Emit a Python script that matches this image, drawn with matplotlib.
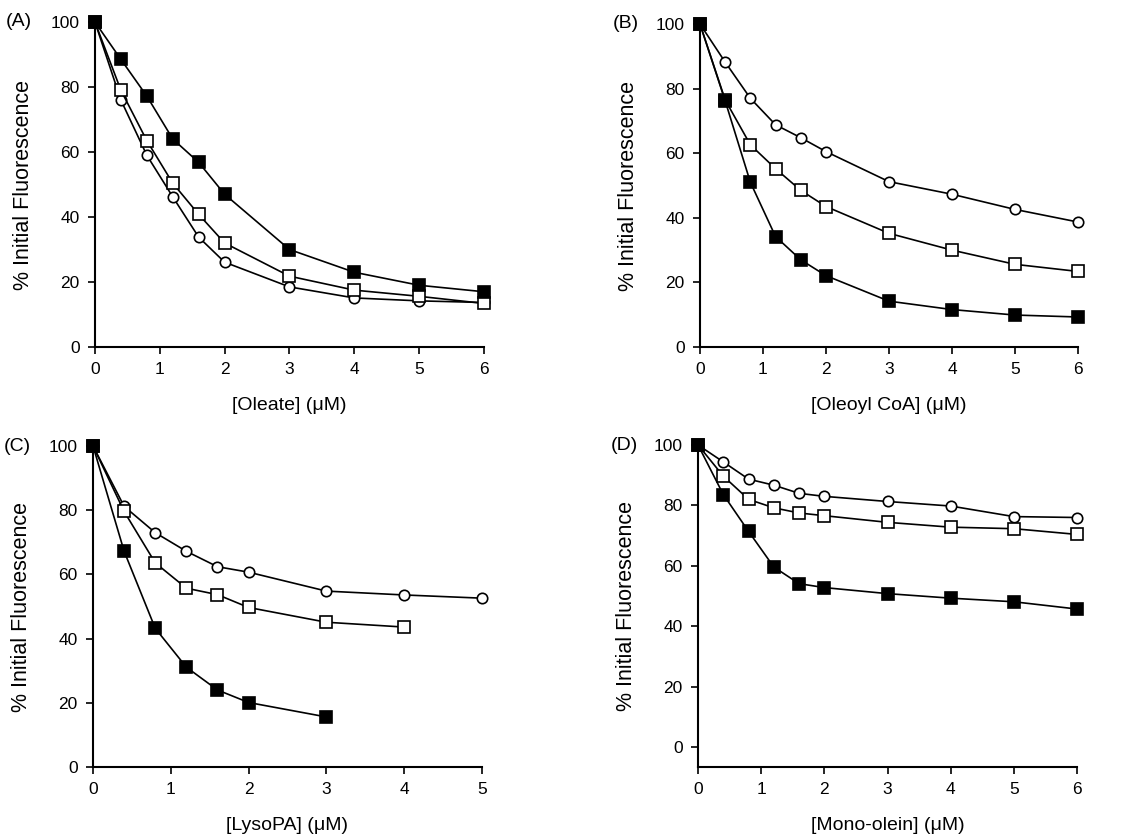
import matplotlib
matplotlib.use("Agg")
import matplotlib.pyplot as plt

plt.rcParams["font.family"] = ["Liberation Sans", "DejaVu Sans"]

# concentrations (uM)
x_full = [0, 0.4, 0.8, 1.2, 1.6, 2, 3, 4, 5, 6]

# (A) oleate
a_filled = [100, 88.5, 77.2, 64, 56.8, 47, 30, 23, 19, 17]
a_square = [100, 79, 63.5, 50.4, 40.8, 32, 21.8, 17.5, 15.6, 13.4]
a_circle = [100, 76, 59, 46.2, 33.8, 26.1, 18.5, 15.1, 14.2, 13.7]

# (B) oleoyl CoA
b_filled = [100, 76.2, 51, 34.2, 27, 22.1, 14.2, 11.6, 9.9, 9.3]
b_square = [100, 76.5, 62.6, 55.2, 48.5, 43.5, 35.2, 30, 25.6, 23.4]
b_circle = [100, 88.2, 77, 68.8, 64.8, 60.5, 51.2, 47.3, 42.6, 38.7]

# (C) lysoPA - series stop at different concentrations
c_x_filled = [0, 0.4, 0.8, 1.2, 1.6, 2, 3]
c_filled = [100, 67.2, 43.2, 31.1, 24, 20.1, 15.6]
c_x_square = [0, 0.4, 0.8, 1.2, 1.6, 2, 3, 4]
c_square = [100, 79.6, 63.6, 55.7, 53.7, 49.7, 45.1, 43.6]
c_x_circle = [0, 0.4, 0.8, 1.2, 1.6, 2, 3, 4, 5]
c_circle = [100, 81.2, 73, 67.2, 62.4, 60.7, 54.8, 53.6, 52.6]

# (D) mono-olein
d_filled = [100, 83.6, 71.4, 59.6, 54.1, 52.8, 50.8, 49.3, 48.1, 45.7]
d_square = [100, 89.7, 82, 79.2, 77.5, 76.6, 74.4, 72.8, 72.3, 70.4]
d_circle = [100, 94.4, 88.7, 86.7, 84, 83, 81.3, 79.8, 76.3, 76]

fig = plt.figure(figsize=(11.33, 8.36), dpi=100)

panels = [
    # letter, rect, xlabel, xmax, ymin, series
    ("(A)", [0.0838, 0.5849, 0.3434, 0.3888], "[Oleate] (\u03bcM)", 6, 0,
     [(x_full, a_circle), (x_full, a_square), (x_full, a_filled)]),
    ("(B)", [0.6178, 0.5849, 0.3336, 0.3864], "[Oleoyl CoA] (\u03bcM)", 6, 0,
     [(x_full, b_circle), (x_full, b_square), (x_full, b_filled)]),
    ("(C)", [0.0821, 0.0825, 0.3433, 0.3840], "[LysoPA] (\u03bcM)", 5, 0,
     [(c_x_circle, c_circle), (c_x_square, c_square), (c_x_filled, c_filled)]),
    ("(D)", [0.6161, 0.0825, 0.3345, 0.3852], "[Mono-olein] (\u03bcM)", 6, -6.6,
     [(x_full, d_circle), (x_full, d_square), (x_full, d_filled)]),
]

styles = [
    dict(marker="o", mfc="white", mec="black", ms=7.5),
    dict(marker="s", mfc="white", mec="black", ms=8),
    dict(marker="s", mfc="black", mec="black", ms=8),
]

for letter, rect, xlabel, xmax, ymin, series in panels:
    ax = fig.add_axes(rect)
    for (xs, ys), st in zip(series, styles):
        ax.plot(xs, ys, color="black", lw=1.2, mew=1.2, clip_on=False, zorder=3, **st)
    ax.set_xlim(0, xmax)
    ax.set_ylim(ymin, 100)
    ax.set_xticks(range(0, xmax + 1))
    ax.set_yticks(range(0, 101, 20))
    for s in ["top", "right"]:
        ax.spines[s].set_visible(False)
    for s in ["left", "bottom"]:
        ax.spines[s].set_linewidth(1.5)
    ax.tick_params(direction="out", length=5, width=1.2, labelsize=12.5, pad=6)
    ax.set_xlabel(xlabel, fontsize=14, labelpad=14)
    ax.set_ylabel("% Initial Fluorescence", fontsize=15.5, labelpad=12)
    ax.text(-0.23, 1.0, letter, transform=ax.transAxes, fontsize=14, va="center", ha="left")

fig.savefig("out.png", dpi=100)
